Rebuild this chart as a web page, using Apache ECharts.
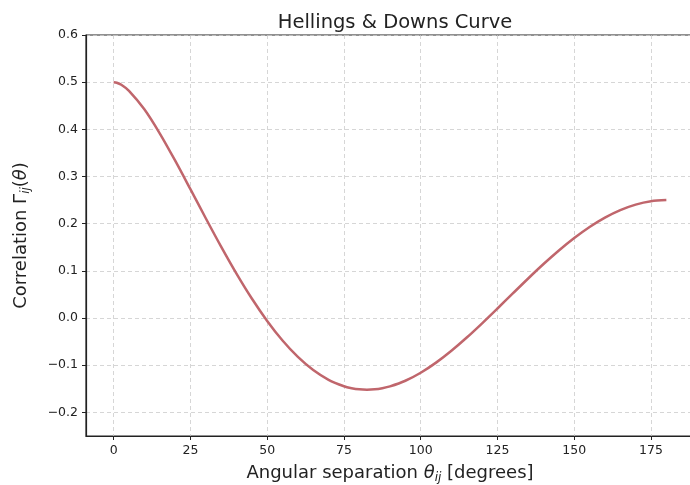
<!DOCTYPE html>
<html>
<head>
<meta charset="utf-8">
<script src="https://cdn.jsdelivr.net/npm/echarts@6/dist/echarts.min.js"></script>
<style>html,body{margin:0;padding:0;background:#fff;}#c{width:690px;height:485px;}</style>
</head>
<body>
<div id="c"></div>
<script>
const angles = [0,1,2.5,5,10,15,20,25,30,35,40,45,50,55,60,65,70,75,77.5,80,82.5,85,87.5,90,95,100,105,110,115,120,125,130,135,140,145,150,155,160,165,170,175,180];
const correlation = [0.5,0.4989,0.4944,0.4816,0.4425,0.3917,0.3341,0.2732,0.2116,0.1514,0.0942,0.0414,-0.0061,-0.0476,-0.0824,-0.1102,-0.1309,-0.1445,-0.1486,-0.1511,-0.1518,-0.1511,-0.1487,-0.1449,-0.1329,-0.1159,-0.0945,-0.0693,-0.0413,-0.0111,0.0203,0.0522,0.0839,0.1145,0.1433,0.1697,0.1931,0.2130,0.2289,0.2405,0.2476,0.25];
const xTicks = [0,25,50,75,100,125,150,175];
const yTicks = [-0.2,-0.1,0.0,0.1,0.2,0.3,0.4,0.5,0.6];

const FONT = 'DejaVu Sans';
const chart = echarts.init(document.getElementById('c'), null, {renderer:'canvas'});
const gridLine = {show:true, lineStyle:{color:'#cccccc', type:[4,3], width:0.8}};
const nameStyle = {fontFamily:FONT, fontSize:18, color:'#222',
  rich:{it:{fontFamily:FONT, fontSize:18, fontStyle:'italic', color:'#222'},
        sub:{fontFamily:FONT, fontSize:12, fontStyle:'italic', color:'#222', padding:[9,0,0,0]}}};
chart.setOption({
  animation:false,
  backgroundColor:'#ffffff',
  title:{text:'Hellings & Downs Curve', left:390, textAlign:'center', top:8,
    textStyle:{fontFamily:FONT, fontSize:19.5, fontWeight:'normal', color:'#222'}},
  grid:{left:86, top:35, right:-4, bottom:49, outerBoundsMode:'none', containLabel:false,
    show:true, borderColor:'#222', borderWidth:1.2, backgroundColor:'transparent'},
  xAxis:{type:'value', min:-9, max:189,
    axisLine:{show:true, onZero:false, lineStyle:{color:'#222', width:1.2}},
    axisTick:{show:true, length:4, customValues:xTicks, lineStyle:{color:'#222'}},
    axisLabel:{customValues:xTicks, fontFamily:FONT, fontSize:12.5, color:'#222', margin:8},
    splitLine:gridLine,
    name:'Angular separation {it|θ}{sub|ij} [degrees]', nameLocation:'middle', nameGap:27,
    nameTextStyle:nameStyle
  },
  yAxis:{type:'value', min:-0.25, max:0.6,
    axisLine:{show:true, onZero:false, lineStyle:{color:'#222', width:1.2}},
    axisTick:{show:true, length:4, customValues:yTicks, lineStyle:{color:'#222'}},
    axisLabel:{customValues:yTicks, fontFamily:FONT, fontSize:12.5, color:'#222', margin:8,
      formatter:v=> (v<0?'\u22120':'0') + '.' + Math.round(Math.abs(v)*10)},
    splitLine:gridLine,
    name:'Correlation Γ{sub|ij}({it|θ})', nameLocation:'middle', nameGap:54, nameRotate:90,
    nameTextStyle:nameStyle
  },
  series:[{type:'line', data:angles.map((a,i)=>[a,correlation[i]]), smooth:0.3, showSymbol:false,
    lineStyle:{color:'#c0666c', width:2.5, join:'round'}}]
});
</script>
</body>
</html>
